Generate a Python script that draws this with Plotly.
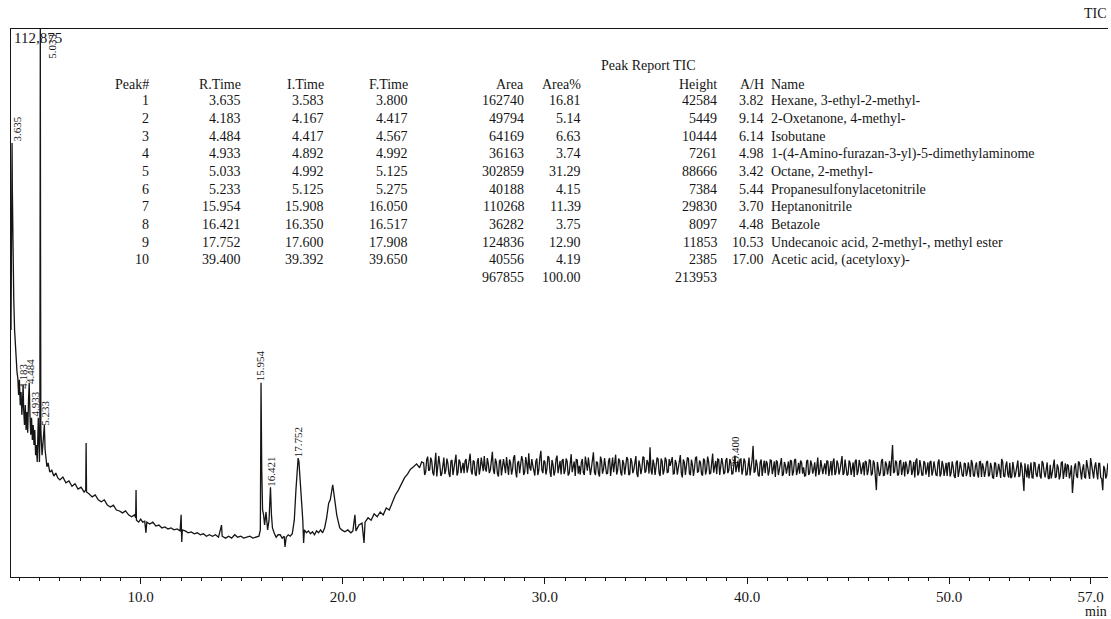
import numpy as np
import plotly.graph_objects as go

# ---------------- chromatogram data (time in min, intensity in thousand counts) ----------------
t_early = [3.583, 3.60, 3.62, 3.635, 3.65, 3.68, 3.72, 3.76, 3.80, 3.84, 3.88, 3.92, 3.96, 4.00,
           4.04, 4.08, 4.12, 4.16, 4.183, 4.21, 4.25, 4.29, 4.33, 4.37, 4.41, 4.45, 4.484, 4.52,
           4.56, 4.60, 4.64, 4.68, 4.72, 4.76, 4.80, 4.84, 4.88, 4.933, 4.96, 4.99, 5.01, 5.02,
           5.033, 5.045, 5.06, 5.09, 5.12, 5.16, 5.20, 5.233, 5.27, 5.31, 5.36, 5.42, 5.50, 5.60,
           5.70, 5.80, 5.90, 6.00, 6.15, 6.30, 6.45, 6.60, 6.75, 6.90, 7.05, 7.20, 7.28, 7.30,
           7.32, 7.45, 7.60, 7.75, 7.90, 8.05, 8.20, 8.35, 8.50, 8.65, 8.80, 8.95, 9.10, 9.25,
           9.40, 9.55, 9.70, 9.75, 9.77, 9.79, 9.90, 10.0, 10.1, 10.2, 10.26, 10.3, 10.45, 10.6,
           10.75, 10.9, 11.05, 11.2, 11.35, 11.5, 11.65, 11.8, 11.95, 12.0, 12.03, 12.06, 12.2,
           12.35, 12.5, 12.65, 12.8, 12.95, 13.1, 13.25, 13.4, 13.55, 13.7, 13.85, 14.0, 14.03,
           14.2, 14.35, 14.5, 14.65, 14.8, 14.95, 15.1, 15.25, 15.4, 15.55, 15.7, 15.85, 15.92,
           15.954, 15.99, 16.03, 16.08, 16.13, 16.2, 16.28, 16.35, 16.421, 16.47, 16.52, 16.6,
           16.7, 16.8, 16.9, 17.0, 17.1, 17.14, 17.2, 17.3, 17.4, 17.5, 17.6, 17.68, 17.75, 17.79,
           17.83, 17.9, 17.97, 18.02, 18.06, 18.1, 18.2, 18.3, 18.4, 18.5, 18.6, 18.7, 18.8, 18.9,
           19.0, 19.1, 19.2, 19.3, 19.38, 19.45, 19.5, 19.55, 19.62, 19.7, 19.78, 19.85, 19.95,
           20.1, 20.25, 20.4, 20.5, 20.6, 20.65, 20.8, 20.95, 21.05, 21.1, 21.25, 21.4, 21.55,
           21.7, 21.85, 22.0, 22.15, 22.3, 22.45, 22.6, 22.75, 22.9, 23.05, 23.2, 23.35, 23.5,
           23.65, 23.8, 23.9]
i_early = [50.9, 67.4, 83.8, 89.4, 79.7, 67.4, 57.1, 50.9, 46.8, 44.3, 42.2, 41.0, 37.5, 40.6,
           35.4, 38.1, 33.4, 36.9, 39.6, 34.4, 31.3, 35.4, 30.3, 34.0, 29.7, 36.5, 40.0, 33.4,
           29.3, 32.8, 28.2, 31.3, 27.2, 30.3, 25.1, 27.2, 23.7, 32.8, 25.1, 23.7, 28.2, 67.4,
           112.875, 67.4, 30.3, 28.2, 25.1, 27.2, 29.3, 31.3, 26.2, 23.7, 22.7, 23.5, 21.6, 22.0,
           20.8, 21.4, 20.4, 20.0, 20.6, 19.4, 19.8, 18.7, 19.2, 18.1, 18.5, 17.5, 17.9, 27.6,
           17.5, 17.1, 16.5, 16.9, 15.9, 15.5, 15.9, 14.8, 14.4, 14.8, 13.8, 13.6, 13.2, 13.6,
           12.8, 12.4, 12.8, 12.2, 17.9, 11.7, 11.3, 11.9, 11.3, 11.5, 9.1, 11.3, 10.9, 11.3,
           10.5, 10.7, 10.1, 10.3, 9.9, 10.1, 9.7, 9.9, 9.5, 12.8, 7.2, 9.7, 9.5,
           9.1, 9.3, 8.9, 9.1, 8.7, 8.9, 8.4, 8.7, 8.4, 8.7, 8.2, 10.7, 8.4,
           8.0, 8.4, 8.0, 8.7, 8.2, 8.4, 8.0, 8.2, 8.4, 8.0, 8.2, 8.4, 9.7,
           40.0, 22.0, 13.8, 12.8, 10.7, 13.4, 9.7, 11.7, 18.5, 12.8, 10.1, 9.1,
           8.2, 8.7, 8.7, 8.0, 8.4, 6.2, 8.2, 8.7, 8.4, 8.9, 11.7, 17.9, 23.1, 24.5,
           23.7, 20.0, 14.8, 11.7, 7.0, 9.7, 9.1, 9.5, 8.9, 9.3, 8.7, 9.5, 9.1, 9.7,
           9.1, 10.1, 12.2, 15.2, 15.9, 18.3, 19.0, 17.5, 14.8, 12.8, 11.3, 10.1, 9.7,
           9.3, 9.7, 9.1, 9.5, 12.8, 9.5, 10.7, 11.1, 7.0, 11.3, 12.2, 11.7, 13.0,
           12.4, 13.4, 12.8, 14.2, 13.8, 15.2, 16.9, 17.9, 19.2, 20.4, 21.2, 22.2, 22.7,
           23.3, 22.5, 23.7]

# plateau scans (24.0 .. 57.9 min, every 0.1 min) and the in-between scans (24.05 .. 57.95)
plateau_start = 24.0
plateau_step = 0.1
i_plateau = [
    23.5, 21.6, 24.8, 22.1, 23.9, 20.9, 25.6, 22.4, 23.2, 21.3,
    24.6, 22.0, 23.4, 20.6, 24.1, 22.8, 25.2, 21.5, 23.7, 22.2,
    21.4, 24.3, 22.6, 25.4, 21.1, 23.8, 20.8, 24.5, 22.3, 23.1,
    24.9, 21.7, 23.3, 22.0, 25.8, 21.2, 23.6, 20.7, 24.2, 22.5,
    22.9, 24.7, 21.0, 23.5, 22.2, 25.1, 20.5, 23.9, 22.7, 24.0,
    21.6, 23.4, 25.5, 21.9, 23.0, 20.9, 24.4, 22.1, 26.0, 21.4,
    23.7, 22.3, 24.6, 20.6, 23.2, 21.8, 25.0, 22.6, 21.1, 24.3,
    22.0, 23.8, 21.3, 25.3, 22.5, 20.8, 24.1, 22.9, 23.5, 21.5,
    24.8, 21.9, 23.1, 22.4, 25.7, 21.0, 23.6, 20.7, 24.0, 22.2,
    23.3, 21.4, 24.5, 22.8, 21.6, 25.2, 22.0, 23.9, 20.9, 23.4,
    22.6, 24.2, 21.2, 23.7, 22.1, 24.9, 20.6, 23.0, 22.4, 24.6,
    21.8, 23.5, 26.7, 21.1, 23.2, 22.5, 24.3, 20.8, 23.8, 22.0,
    24.1, 21.6, 22.9, 24.7, 21.3, 23.4, 22.2, 25.1, 20.5, 23.6,
    22.7, 24.4, 21.0, 23.1, 22.3, 24.8, 21.7, 23.5, 20.9, 24.0,
    22.1, 23.7, 21.4, 25.4, 22.6, 21.2, 24.2, 22.8, 23.3, 21.5,
    24.5, 22.0, 23.6, 21.3, 25.0, 22.7, 21.6, 24.3, 22.2, 23.8,
    21.1, 24.6, 22.4, 27.0, 21.8, 23.1, 20.7, 24.2, 22.5, 21.4,
    23.4, 21.9, 24.0, 22.3, 20.6, 23.7, 22.1, 24.5, 21.2, 23.0,
    22.4, 20.8, 23.9, 21.7, 24.3, 22.0, 21.3, 23.6, 22.6, 20.9,
    24.1, 21.5, 23.2, 22.2, 20.7, 24.6, 21.8, 23.0, 22.5, 21.1,
    23.8, 22.1, 20.9, 24.4, 21.6, 23.3, 22.0, 24.9, 21.4, 22.7,
    21.2, 23.5, 22.2, 20.6, 24.2, 21.8, 23.1, 22.4, 20.9, 23.7,
    22.0, 24.0, 21.3, 23.4, 17.9, 22.6, 21.5, 24.3, 21.0, 23.2,
    22.5, 20.8, 27.2, 21.7, 23.6, 21.1, 24.1, 22.3, 20.7, 23.0,
    21.9, 23.8, 22.0, 20.5, 24.4, 21.4, 22.8, 21.0, 23.5, 22.2,
    20.6, 23.9, 21.8, 22.5, 20.9, 24.2, 21.3, 23.0, 22.1, 20.8,
    23.6, 21.5, 22.7, 20.4, 24.0, 21.9, 22.4, 20.7, 23.3, 21.6,
    22.2, 24.1, 20.9, 22.8, 21.3, 23.7, 20.6, 22.5, 21.8, 23.9,
    21.0, 22.6, 20.3, 23.4, 21.7, 22.0, 24.3, 20.8, 22.9, 21.2,
    23.5, 20.6, 22.3, 21.5, 24.0, 20.9, 22.7, 17.7, 21.4, 23.2,
    21.9, 20.5, 23.6, 21.2, 22.4, 20.8, 23.9, 21.6, 22.1, 20.4,
    23.1, 21.4, 24.2, 20.7, 22.5, 21.0, 23.7, 21.8, 20.6, 22.9,
    21.3, 17.3, 22.6, 20.9, 23.8, 21.5, 22.2, 20.6, 24.1, 21.1,
    24.5, 20.8, 22.7, 21.6, 23.4, 20.5, 17.9, 22.2, 21.0, 23.0,
]
i_plateau_mid = [
    21.0, 24.2, 21.9, 24.6, 21.5, 23.8, 20.7, 24.9, 20.8, 23.6,
    21.2, 24.4, 21.3, 23.9, 21.0, 24.7, 20.9, 24.2, 21.4, 23.5,
    23.9, 21.5, 24.8, 21.9, 24.0, 21.2, 23.6, 21.1, 24.6, 21.8,
    22.3, 24.5, 21.4, 24.1, 22.0, 24.4, 21.3, 23.9, 20.9, 24.3,
    21.4, 22.8, 24.2, 21.1, 24.6, 21.8, 23.5, 21.4, 24.9, 21.0,
    24.7, 21.2, 22.6, 24.3, 21.5, 23.8, 21.0, 24.6, 22.0, 24.0,
    21.1, 24.9, 21.7, 24.1, 20.9, 24.3, 21.4, 23.9, 24.0, 21.2,
    24.4, 20.9, 24.0, 21.6, 23.8, 24.2, 21.3, 21.1, 24.3, 21.0,
    22.5, 24.6, 21.0, 24.0, 21.6, 23.7, 21.4, 24.8, 21.3, 24.5,
    21.2, 23.9, 20.8, 24.6, 23.4, 21.1, 24.4, 21.5, 24.1, 21.1,
    24.7, 21.0, 24.5, 21.4, 24.2, 21.3, 24.0, 21.2, 24.8, 21.5,
    24.1, 21.3, 22.0, 24.2, 21.0, 24.6, 21.4, 24.4, 21.1, 24.6,
    21.5, 24.3, 24.0, 21.2, 24.1, 21.1, 23.9, 21.4, 24.2, 21.0,
    24.6, 21.3, 24.2, 20.8, 24.5, 21.6, 24.0, 21.2, 24.4, 21.1,
    24.8, 21.2, 24.1, 21.5, 23.9, 24.3, 21.0, 24.5, 21.2, 24.0,
    21.4, 24.3, 21.2, 24.0, 21.6, 23.9, 24.2, 21.1, 24.4, 21.0,
    23.8, 20.9, 24.1, 21.5, 24.2, 21.0, 23.6, 20.8, 24.0, 23.9,
    20.9, 24.1, 21.2, 23.8, 24.0, 21.0, 23.9, 20.8, 23.7, 21.3,
    23.8, 24.0, 20.9, 24.1, 21.0, 23.5, 24.0, 21.3, 20.8, 23.9,
    21.0, 24.0, 21.3, 23.6, 23.8, 21.0, 24.1, 21.2, 23.4, 24.0,
    20.8, 23.9, 23.7, 21.0, 24.0, 21.1, 23.9, 21.0, 24.2, 20.9,
    24.0, 21.0, 23.6, 23.8, 21.0, 24.1, 21.2, 23.6, 23.9, 21.0,
    24.1, 20.9, 24.0, 21.0, 23.7, 20.8, 23.9, 20.9, 23.8, 21.1,
    23.9, 24.2, 21.4, 24.0, 20.9, 23.8, 21.0, 23.7, 23.8, 21.2,
    24.0, 21.0, 23.7, 23.9, 20.9, 24.1, 21.0, 23.9, 21.1, 23.6,
    23.7, 20.9, 23.8, 21.0, 23.6, 20.7, 23.9, 20.8, 23.5, 23.4,
    20.7, 23.8, 20.8, 23.6, 20.6, 23.7, 20.9, 23.5, 20.8, 23.6,
    20.6, 23.4, 20.7, 23.6, 20.5, 23.8, 23.4, 20.6, 23.7, 20.7,
    23.5, 20.5, 23.6, 20.6, 23.3, 20.4, 23.7, 20.6, 23.8, 20.5,
    20.4, 23.7, 20.5, 23.3, 20.6, 23.6, 20.4, 23.4, 20.5, 20.3,
    23.6, 20.4, 23.5, 20.6, 23.3, 20.3, 23.4, 20.5, 23.6, 20.2,
    20.3, 23.5, 20.4, 23.2, 20.1, 23.6, 20.2, 23.4, 23.2, 20.3,
    23.0, 20.2, 23.4, 20.4, 23.5, 20.1, 23.2, 20.3, 23.0, 20.2,
    23.1, 20.3, 23.6, 20.1, 23.4, 20.2, 22.9, 20.3, 23.4, 20.4,
]

full_scale = 112.875          # thousand counts (label "112,875")
x_min, x_max = 3.583, 57.86

# ---------------- peak report ----------------
peak_no = [1, 2, 3, 4, 5, 6, 7, 8, 9, 10]
r_time = ["3.635", "4.183", "4.484", "4.933", "5.033", "5.233", "15.954", "16.421", "17.752", "39.400"]
i_time = ["3.583", "4.167", "4.417", "4.892", "4.992", "5.125", "15.908", "16.350", "17.600", "39.392"]
f_time = ["3.800", "4.417", "4.567", "4.992", "5.125", "5.275", "16.050", "16.517", "17.908", "39.650"]
area = [162740, 49794, 64169, 36163, 302859, 40188, 110268, 36282, 124836, 40556]
area_pct = ["16.81", "5.14", "6.63", "3.74", "31.29", "4.15", "11.39", "3.75", "12.90", "4.19"]
height = [42584, 5449, 10444, 7261, 88666, 7384, 29830, 8097, 11853, 2385]
a_h = ["3.82", "9.14", "6.14", "4.98", "3.42", "5.44", "3.70", "4.48", "10.53", "17.00"]
names = ["Hexane, 3-ethyl-2-methyl-", "2-Oxetanone, 4-methyl-", "Isobutane",
         "1-(4-Amino-furazan-3-yl)-5-dimethylaminome", "Octane, 2-methyl-",
         "Propanesulfonylacetonitrile", "Heptanonitrile", "Betazole",
         "Undecanoic acid, 2-methyl-, methyl ester", "Acetic acid, (acetyloxy)-"]
total_area = "967855"
total_pct = "100.00"
total_height = "213953"
headers = ["Peak#", "R.Time", "I.Time", "F.Time", "Area", "Area%", "Height", "A/H", "Name"]

x_tick_vals = [10, 20, 30, 40, 50, 57]
x_tick_text = ["10.0", "20.0", "30.0", "40.0", "50.0", "57.0"]

# ---------------- build ----------------
t_plateau = plateau_start + plateau_step * np.arange(len(i_plateau))
t_plateau_mid = plateau_start + plateau_step / 2 + plateau_step * np.arange(len(i_plateau_mid))
t_pl = np.concatenate([t_plateau, t_plateau_mid])
i_pl = np.concatenate([np.array(i_plateau), np.array(i_plateau_mid)])
order = np.argsort(t_pl)
t_all = np.concatenate([np.array(t_early), t_pl[order]])
i_all = np.concatenate([np.array(i_early), i_pl[order]])

FONT = "Liberation Serif"
INK = "#151515"

W, H = 1111, 619
L, R, T, B = 11, 3, 29, 42
PW, PH = W - L - R, H - T - B


def px(xp):
    return (xp - L) / PW


def py(yp):
    return (H - B - yp) / PH


fig = go.Figure()
fig.add_trace(go.Scatter(x=t_all, y=i_all, mode="lines",
                         line=dict(color=INK, width=1.3), hoverinfo="skip", showlegend=False))

ann = []
peak_label_spec = [
    ("3.635", 3.635, 89.4, 5, 0),
    ("4.183", 4.183, 38.5, -1, 0),
    ("4.484", 4.484, 39.5, 1, 0),
    ("4.933", 4.933, 32.8, -3, 0),
    ("5.233", 5.233, 30.9, 1, 0),
    ("15.954", 15.954, 40.0, -1, 0),
    ("16.421", 16.421, 18.5, 1, 0),
    ("17.752", 17.79, 24.5, 0, 0),
    ("39.400", 39.40, 22.6, 0, 0),
]
for txt, xx, yy, xs, ys in peak_label_spec:
    ann.append(dict(x=xx, y=yy, xref="x", yref="y", text=txt, textangle=-90, showarrow=False,
                    xanchor="center", yanchor="bottom", xshift=xs, yshift=ys, borderpad=0,
                    font=dict(family=FONT, size=11, color=INK)))
ann.append(dict(x=5.033, y=1, xref="x", yref="paper", text="5.033", textangle=-90, showarrow=False,
                xanchor="center", yanchor="top", xshift=11, yshift=-4, borderpad=0,
                font=dict(family=FONT, size=11, color=INK)))
ann.append(dict(x=px(12), y=py(38), xref="paper", yref="paper", text="112,875", showarrow=False,
                xanchor="left", yanchor="middle", font=dict(family=FONT, size=15, color=INK)))
ann.append(dict(x=px(1109), y=py(13), xref="paper", yref="paper", text="TIC", showarrow=False,
                xanchor="right", yanchor="middle", font=dict(family=FONT, size=14, color=INK)))
ann.append(dict(x=px(1109), y=py(611), xref="paper", yref="paper", text="min", showarrow=False,
                xanchor="right", yanchor="middle", font=dict(family=FONT, size=14, color=INK)))

TF = dict(family=FONT, size=14, color=INK)
ann.append(dict(x=px(648), y=py(65), xref="paper", yref="paper", text="Peak Report TIC",
                showarrow=False, xanchor="center", yanchor="middle", font=TF))
col_right = [151, 243, 326, 410, 526, 583, 719, 766]
col_name_left = 769
hdr_y = 84
row_y0 = 101
row_dy = 17.65
for c, h in enumerate(headers):
    if c < len(col_right):
        ann.append(dict(x=px(col_right[c]), y=py(hdr_y), xref="paper", yref="paper", text=h,
                        showarrow=False, xanchor="right", yanchor="middle", font=TF))
    else:
        ann.append(dict(x=px(col_name_left), y=py(hdr_y), xref="paper", yref="paper", text=h,
                        showarrow=False, xanchor="left", yanchor="middle", font=TF))
for r in range(len(peak_no)):
    yy = py(row_y0 + r * row_dy)
    cells = [str(peak_no[r]), r_time[r], i_time[r], f_time[r], str(area[r]), area_pct[r],
             str(height[r]), a_h[r]]
    for c, v in enumerate(cells):
        ann.append(dict(x=px(col_right[c]), y=yy, xref="paper", yref="paper", text=v,
                        showarrow=False, xanchor="right", yanchor="middle", font=TF))
    ann.append(dict(x=px(col_name_left), y=yy, xref="paper", yref="paper", text=names[r],
                    showarrow=False, xanchor="left", yanchor="middle", font=TF))
ytot = py(row_y0 + len(peak_no) * row_dy)
for c, v in [(4, total_area), (5, total_pct), (6, total_height)]:
    ann.append(dict(x=px(col_right[c]), y=ytot, xref="paper", yref="paper", text=v,
                    showarrow=False, xanchor="right", yanchor="middle", font=TF))

fig.update_layout(
    width=W, height=H,
    margin=dict(l=L, r=R, t=T, b=B, pad=0),
    paper_bgcolor="white", plot_bgcolor="white",
    showlegend=False,
    annotations=ann,
    xaxis=dict(range=[x_min, x_max], showgrid=False, zeroline=False,
               showline=True, linecolor=INK, linewidth=1, mirror=True,
               ticks="outside", ticklen=6, tickwidth=1, tickcolor=INK,
               tickmode="array", tickvals=x_tick_vals, ticktext=x_tick_text,
               tickfont=dict(family=FONT, size=15, color=INK),
               minor=dict(tickmode="linear", tick0=0, dtick=1, ticks="outside",
                          ticklen=3, tickwidth=1, tickcolor=INK)),
    yaxis=dict(range=[0, full_scale], showgrid=False, zeroline=False,
               showline=True, linecolor=INK, linewidth=1, mirror=False,
               ticks="", showticklabels=False),
)

fig.write_html("out.html", config={"displayModeBar": False},
               post_script="document.body.style.margin='0';document.body.style.padding='0';"
                           "document.documentElement.style.overflow='hidden';")
